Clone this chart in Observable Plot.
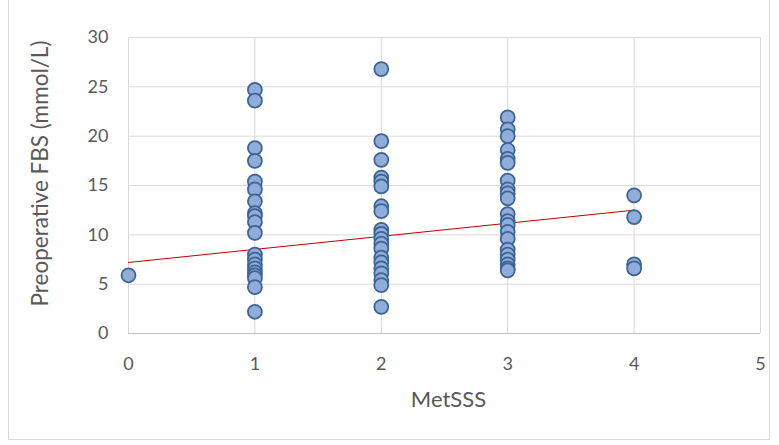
<!DOCTYPE html>
<html>
<head>
<meta charset="utf-8">
<script src="https://cdn.jsdelivr.net/npm/d3@7"></script>
<script src="https://cdn.jsdelivr.net/npm/@observablehq/plot@0.6"></script>
<style>
  html, body { margin: 0; padding: 0; background: #fff; }
  #wrap { position: relative; width: 779px; height: 445px; overflow: hidden; }
  #frame { position: absolute; left: 8px; top: -2px; width: 762px; height: 442px; border: 1px solid #d9d9d9; box-sizing: border-box; pointer-events: none; }
  #chart { position: absolute; left: 0; top: 0; }
</style>
</head>
<body>
<div id="wrap"><div id="frame"></div><div id="chart"></div></div>
<script>
const xTicks = [0, 1, 2, 3, 4, 5];
const yTicks = [0, 5, 10, 15, 20, 25, 30];
const xLabel = "MetSSS";
const yLabel = "Preoperative FBS (mmol/L)";

// FBS values by MetSSS group
const fbs0 = [5.9];
const fbs1 = [24.7, 23.6, 18.8, 17.5, 15.4, 14.6, 13.4, 12.2, 11.9, 11.3, 10.2, 8.0, 7.5, 7.0, 6.6, 6.2, 5.9, 5.6, 4.7, 2.2];
const fbs2 = [26.8, 19.5, 17.6, 15.8, 15.4, 14.9, 12.9, 12.4, 10.5, 10.1, 9.6, 9.1, 8.6, 7.7, 7.2, 6.6, 6.1, 5.4, 4.9, 2.7];
const fbs3 = [21.9, 20.7, 20.0, 18.6, 17.7, 17.3, 15.5, 14.6, 14.2, 13.7, 12.1, 11.4, 11.0, 10.3, 9.6, 8.5, 8.0, 7.5, 7.0, 6.6, 6.4];
const fbs4 = [14.0, 11.8, 7.0, 6.6];

// linear trend line endpoints
const trendX = [0, 4];
const trendY = [7.2, 12.5];

const groups = [fbs0, fbs1, fbs2, fbs3, fbs4];
const points = groups.flatMap((arr, i) => arr.map(v => ({x: i, y: v})));
const trend = trendX.map((x, i) => ({x, y: trendY[i]}));

const font = "Lato, 'Open Sans', sans-serif";

const chart = Plot.plot({
  width: 779,
  height: 445,
  marginLeft: 128,
  marginRight: 19,
  marginTop: 37,
  marginBottom: 112,
  style: {fontFamily: font, fontSize: "18px", color: "#595959", background: "transparent", overflow: "visible"},
  x: {domain: [0, 5], ticks: xTicks, tickFormat: d3.format("d")},
  y: {domain: [0, 30], ticks: yTicks, tickFormat: d3.format("d")},
  marks: [
    Plot.gridX(xTicks, {stroke: "#d9d9d9", strokeOpacity: 1, strokeWidth: 1}),
    Plot.gridY(yTicks, {stroke: "#d9d9d9", strokeOpacity: 1, strokeWidth: 1}),
    Plot.ruleY([0], {stroke: "#bfbfbf", strokeWidth: 1}),
    Plot.axisX(xTicks, {tickSize: 0, tickPadding: 24, label: null, fill: "#595959", fontSize: 18, tickFormat: d3.format("d")}),
    Plot.axisY(yTicks, {tickSize: 0, tickPadding: 20, label: null, fill: "#595959", fontSize: 18, tickFormat: d3.format("d")}),
    Plot.line(trend, {x: "x", y: "y", stroke: "#c00000", strokeWidth: 1}),
    Plot.dot(points, {x: "x", y: "y", r: 7, fill: "#8fadd8", stroke: "#3b6396", strokeWidth: 1.75}),
    Plot.text([xLabel], {frameAnchor: "bottom", dx: 4, dy: 73, text: d => d, fill: "#595959", fontSize: 22, textAnchor: "middle"}),
    Plot.text([yLabel], {frameAnchor: "left", dx: -88, dy: -12, rotate: -90, text: d => d, fill: "#595959", fontSize: 22.5, textAnchor: "middle"})
  ]
});
document.getElementById("chart").appendChild(chart);
</script>
</body>
</html>
